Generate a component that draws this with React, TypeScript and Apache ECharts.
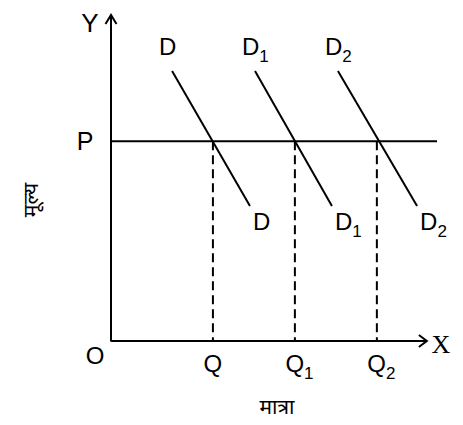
import React, { useEffect, useRef } from "react";
import * as echarts from "echarts";

// Data (in chart units)
const price = 6.13; // P
const quantities = [3.22, 5.81, 8.4]; // Q, Q1, Q2
const quantitySubs = ["", "1", "2"];
const demandTop = [
  [1.93, 8.28],
  [4.55, 8.28],
  [7.17, 8.28],
];
const demandBottom = [
  [4.39, 4.14],
  [6.98, 4.14],
  [9.67, 4.14],
];
const demandSubs = ["", "1", "2"];
const xMax = 10.3;
const yMax = 10;
const xAxisEnd = 9.98;

const FONT = "'Liberation Sans', Arial, sans-serif";
const DEVA = "'Noto Sans Devanagari', 'Noto Sans', 'Lohit Devanagari', sans-serif";

const lineStyle = { color: "#000", width: 2 };

export default function App() {
  const ref = useRef<HTMLDivElement>(null);
  useEffect(() => {
    if (!ref.current) return;
    const chart = echarts.init(ref.current, undefined, { renderer: "svg" });
    const series: any[] = [];
    series.push({
      type: "line",
      data: [
        [0, yMax],
        [0, 0],
        [xAxisEnd, 0],
      ],
      symbol: "none",
      lineStyle,
      silent: true,
    });
    series.push({
      type: "line",
      data: [
        [0, price],
        [xMax, price],
      ],
      symbol: "none",
      lineStyle,
      silent: true,
    });
    demandTop.forEach((t, i) => {
      series.push({
        type: "line",
        data: [t, demandBottom[i]],
        symbol: "none",
        lineStyle,
        silent: true,
      });
    });
    quantities.forEach((q) => {
      series.push({
        type: "line",
        data: [
          [q, price],
          [q, 0],
        ],
        symbol: "none",
        lineStyle: { color: "#000", width: 2, type: [9, 5] },
        silent: true,
      });
    });

    chart.setOption({
      animation: false,
      grid: { left: 111, top: 15, width: 326, height: 326 },
      xAxis: {
        type: "value",
        min: 0,
        max: xMax,
        axisLine: { show: false },
        axisTick: { show: false },
        axisLabel: { show: false },
        splitLine: { show: false },
      },
      yAxis: {
        type: "value",
        min: 0,
        max: yMax,
        axisLine: { show: false },
        axisTick: { show: false },
        axisLabel: { show: false },
        splitLine: { show: false },
      },
      series,
    });

    const px = (p: number[]) => chart.convertToPixel({ gridIndex: 0 }, p) as number[];
    const rich = {
      m: { fontSize: 24, fontFamily: FONT, fill: "#000" },
      s: { fontSize: 17, fontFamily: FONT, fill: "#000", padding: [20, 0, 0, 0] },
    };
    const label = (x: number, y: number, main: string, sub: string) => ({
      type: "text",
      silent: true,
      style: {
        text: sub ? `{m|${main}}{s|${sub}}` : `{m|${main}}`,
        rich,
        x,
        y,
        align: "left",
        verticalAlign: "middle",
      },
    });

    const graphic: any[] = [];
    const yTip = px([0, yMax]);
    const xTip = px([xAxisEnd, 0]);
    const origin = px([0, 0]);
    const pP = px([0, price]);
    graphic.push({
      type: "polyline",
      silent: true,
      shape: { points: [[yTip[0] - 5.5, yTip[1] + 9], [yTip[0], yTip[1]], [yTip[0] + 5.5, yTip[1] + 9]] },
      style: { stroke: "#000", lineWidth: 2, fill: null },
    });
    graphic.push({
      type: "polyline",
      silent: true,
      shape: { points: [[xTip[0] - 8, xTip[1] - 6], [xTip[0], xTip[1]], [xTip[0] - 8, xTip[1] + 6]] },
      style: { stroke: "#000", lineWidth: 2, fill: null },
    });
    graphic.push({
      type: "text",
      silent: true,
      style: { text: "Y", x: yTip[0] - 21, y: yTip[1] + 8, align: "center", verticalAlign: "middle", fontSize: 26, fontFamily: FONT, fill: "#000" },
    });
    graphic.push({
      type: "text",
      silent: true,
      style: { text: "P", x: pP[0] - 26, y: pP[1], align: "center", verticalAlign: "middle", fontSize: 25, fontFamily: FONT, fill: "#000" },
    });
    graphic.push({
      type: "text",
      silent: true,
      style: { text: "O", x: origin[0] - 16, y: origin[1] + 14, align: "center", verticalAlign: "middle", fontSize: 24, fontFamily: FONT, fill: "#000" },
    });
    graphic.push({
      type: "text",
      silent: true,
      style: { text: "X", x: xTip[0] + 14, y: xTip[1] + 3, align: "center", verticalAlign: "middle", fontSize: 26, fontFamily: "'Liberation Serif', 'Times New Roman', serif", fill: "#000" },
    });
    quantities.forEach((q, i) => {
      const p = px([q, 0]);
      graphic.push(label(p[0] - 9.5, p[1] + 22, "Q", quantitySubs[i]));
    });
    demandTop.forEach((t, i) => {
      const p = px(t);
      graphic.push(label(p[0] - 13, p[1] - 25, "D", demandSubs[i]));
      const b = px(demandBottom[i]);
      graphic.push(label(b[0] + 3, b[1] + 15, "D", demandSubs[i]));
    });
    graphic.push({
      type: "text",
      silent: true,
      style: { text: "मात्रा", x: 277, y: 409, align: "center", verticalAlign: "middle", fontSize: 21, fontFamily: DEVA, fill: "#000" },
    });
    graphic.push({
      type: "text",
      silent: true,
      x: 33,
      y: 200,
      rotation: Math.PI / 2,
      style: { text: "मूल्य", x: 0, y: 0, align: "center", verticalAlign: "middle", fontSize: 21, fontFamily: DEVA, fill: "#000" },
    });
    chart.setOption({ graphic });

    return () => chart.dispose();
  }, []);
  return <div ref={ref} style={{ position: "fixed", left: 0, top: 0, width: 463, height: 425, background: "#fff" }} />;
}
